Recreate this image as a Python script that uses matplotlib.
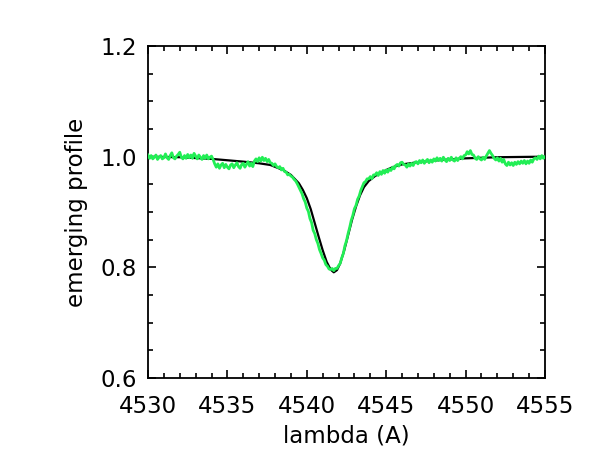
import numpy as np
import matplotlib
matplotlib.use("Agg")
import matplotlib.pyplot as plt
from matplotlib.ticker import MultipleLocator

# Model profile (black)
model_wl = [4530.0, 4532.0, 4534.0, 4536.0, 4537.0, 4537.7, 4538.5, 4539.0, 4539.5,
            4539.75, 4540.0, 4540.25, 4540.5, 4540.75, 4541.0, 4541.25, 4541.5, 4541.7,
            4541.9, 4542.1, 4542.35, 4542.6, 4542.85, 4543.1, 4543.35, 4543.6, 4543.9,
            4544.3, 4544.8, 4545.4, 4546.0, 4547.0, 4548.0, 4550.0, 4552.0, 4555.0]
model_flux = [1.000, 0.999, 0.996, 0.991, 0.988, 0.985, 0.976, 0.967, 0.952,
              0.940, 0.925, 0.905, 0.880, 0.855, 0.831, 0.810, 0.796, 0.791,
              0.795, 0.807, 0.830, 0.858, 0.886, 0.910, 0.930, 0.945, 0.956,
              0.965, 0.973, 0.981, 0.986, 0.990, 0.993, 0.997, 0.999, 1.000]

# Observed profile (green), sampled every 0.1 A from 4530.0 to 4555.0
obs_start = 4530.0
obs_step = 0.1
obs_flux = [
    1.003, 0.997, 1.002, 0.996, 0.999, 1.003, 0.995, 0.999, 1.002, 0.996,
    0.998, 1.005, 0.998, 0.995, 1.002, 1.007, 0.998, 0.996, 1.001, 1.004,
    1.008, 0.999, 0.996, 1.002, 0.997, 1.004, 0.998, 1.003, 0.997, 1.006,
    1.001, 0.996, 1.003, 0.999, 0.995, 1.002, 0.997, 1.003, 0.996, 0.999,
    1.001, 0.995, 0.987, 0.981, 0.987, 0.979, 0.985, 0.988, 0.980, 0.986,
    0.981, 0.978, 0.985, 0.987, 0.980, 0.985, 0.989, 0.982, 0.979, 0.986,
    0.988, 0.981, 0.986, 0.991, 0.983, 0.988, 0.982, 0.992, 0.996, 0.991,
    0.998, 0.992, 0.999, 0.993, 0.997, 0.991, 0.995, 0.989, 0.988, 0.984,
    0.987, 0.982, 0.980, 0.982, 0.976, 0.979, 0.973, 0.972, 0.967, 0.968,
    0.965, 0.963, 0.959, 0.956, 0.951, 0.945, 0.939, 0.933, 0.924, 0.918,
    0.907, 0.901, 0.888, 0.881, 0.867, 0.861, 0.850, 0.843, 0.832, 0.825,
    0.817, 0.813, 0.805, 0.802, 0.797, 0.796, 0.798, 0.794, 0.798, 0.798,
    0.803, 0.807, 0.817, 0.825, 0.839, 0.848, 0.861, 0.872, 0.885, 0.894,
    0.906, 0.912, 0.923, 0.929, 0.939, 0.946, 0.953, 0.955, 0.960, 0.960,
    0.964, 0.960, 0.967, 0.967, 0.971, 0.966, 0.973, 0.968, 0.975, 0.970,
    0.976, 0.972, 0.978, 0.975, 0.981, 0.978, 0.984, 0.986, 0.983, 0.989,
    0.990, 0.986, 0.985, 0.981, 0.987, 0.983, 0.988, 0.984, 0.990, 0.991,
    0.987, 0.993, 0.989, 0.994, 0.988, 0.992, 0.995, 0.989, 0.994, 0.990,
    0.996, 0.992, 0.998, 0.993, 0.997, 0.992, 0.999, 0.994, 0.991, 0.997,
    0.993, 0.999, 0.994, 0.992, 0.998, 0.993, 0.997, 1.000, 0.996, 1.002,
    1.003, 1.009, 1.005, 1.011, 1.004, 1.003, 0.997, 0.995, 1.000, 0.996,
    0.994, 0.999, 0.995, 1.001, 1.006, 1.011, 1.006, 1.002, 0.997, 0.994,
    0.998, 0.992, 0.997, 0.990, 0.995, 0.987, 0.984, 0.990, 0.985, 0.989,
    0.984, 0.990, 0.986, 0.991, 0.987, 0.992, 0.988, 0.993, 0.987, 0.992,
    0.988, 0.994, 0.990, 0.996, 0.998, 0.995, 1.001, 0.996, 1.002, 0.997,
    1.000,
]
obs_wl = obs_start + obs_step * np.arange(len(obs_flux))

x_ticks = [4530, 4535, 4540, 4545, 4550, 4555]
y_ticks = [0.6, 0.8, 1.0, 1.2]

fig = plt.figure(figsize=(5.91, 4.72), dpi=100)
ax = fig.add_axes([148 / 591, 1 - 378 / 472, (545 - 148) / 591, (378 - 46) / 472])

ax.plot(model_wl, model_flux, color="black", lw=1.6, zorder=2)
ax.plot(obs_wl, obs_flux, color="#22EE55", lw=2.0, zorder=3)

ax.set_xlim(4530, 4555)
ax.set_ylim(0.6, 1.2)
ax.set_xticks(x_ticks)
ax.set_xticklabels([str(t) for t in x_ticks])
ax.set_yticks(y_ticks)
ax.set_yticklabels([f"{t:.1f}" for t in y_ticks])
ax.xaxis.set_minor_locator(MultipleLocator(1))
ax.yaxis.set_minor_locator(MultipleLocator(0.05))

ax.tick_params(which="both", direction="in", top=True, right=True, width=1.2)
ax.tick_params(which="major", length=6, labelsize=16.5)
ax.tick_params(axis="x", which="major", pad=12)
ax.tick_params(axis="y", which="major", pad=8)
ax.tick_params(which="minor", length=3.5)
for s in ax.spines.values():
    s.set_linewidth(1.3)

ax.set_xlabel("lambda (A)", fontsize=16.5, labelpad=5)
ax.set_ylabel("emerging profile", fontsize=16.5, labelpad=9)

fig.savefig("out.png", dpi=100)
